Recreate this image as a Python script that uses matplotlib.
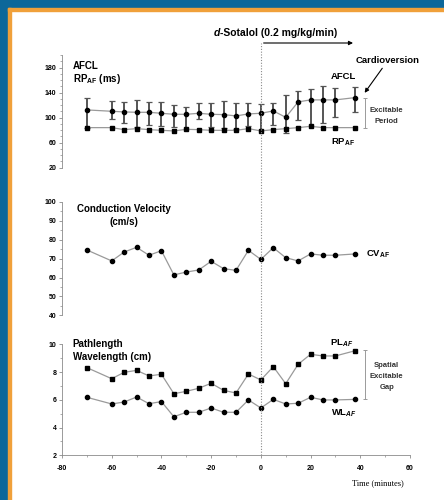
import numpy as np
import matplotlib.pyplot as plt
from matplotlib.patches import Rectangle

plt.rcParams['font.family'] = ['Liberation Sans', 'DejaVu Sans']
plt.rcParams['mathtext.fontset'] = 'custom'
plt.rcParams['mathtext.rm'] = 'Liberation Sans'
plt.rcParams['mathtext.bf'] = 'Liberation Sans:bold'
plt.rcParams['mathtext.it'] = 'Liberation Sans:italic:bold'
plt.rcParams['axes.unicode_minus'] = False

# time points (minutes)
time = [-70, -60, -55, -50, -45, -40, -35, -30, -25, -20, -15, -10, -5, 0, 5, 10, 15, 20, 25, 30, 38]

# AFCL mean and error bar ends (ms)
afcl = [112.3, 110.1, 109.1, 108.5, 108.5, 106.9, 105.3, 105.3, 106.9, 105.3, 104.8,
        102.7, 105.9, 106.9, 110.7, 100.5, 125.1, 128.3, 128.3, 128.3, 132.0]
afcl_hi = [132.0, 126.7, 125.1, 127.7, 125.1, 125.1, 120.8, 117.6, 122.9, 124.0, 126.7,
           122.9, 124.0, 121.3, 124.0, 136.3, 143.2, 146.4, 150.1, 147.5, 149.6]
afcl_lo = [84.0, 97.3, 90.9, 85.6, 87.7, 86.7, 84.5, 82.4, 97.3, 84.5, 82.9,
           81.3, 86.7, 80.3, 87.7, 74.9, 96.3, 86.7, 92.0, 101.6, 109.1]
# refractory period (ms)
rp = [84.0, 84.0, 80.8, 82.4, 80.8, 79.7, 78.7, 81.3, 80.8, 79.7, 79.7,
      79.7, 82.4, 78.7, 80.8, 82.4, 84.0, 86.1, 84.0, 84.0, 84.0]
# conduction velocity (cm/s)
cv = [74.6, 68.8, 73.5, 76.0, 71.8, 74.2, 61.4, 62.9, 64.0, 68.6, 64.7,
      63.8, 74.4, 69.6, 75.8, 70.5, 68.8, 72.5, 71.8, 71.8, 72.5]
# pathlength and wavelength (cm)
pl = [8.32, 7.52, 7.98, 8.12, 7.72, 7.84, 6.44, 6.61, 6.83, 7.19, 6.68,
      6.49, 7.86, 7.43, 8.39, 7.16, 8.56, 9.28, 9.16, 9.16, 9.54]
wl = [6.18, 5.70, 5.84, 6.20, 5.72, 5.87, 4.78, 5.10, 5.10, 5.41, 5.10,
      5.10, 5.99, 5.41, 6.03, 5.70, 5.75, 6.18, 5.99, 5.99, 6.03]

W, H = 444, 500
fig = plt.figure(figsize=(W / 100, H / 100), dpi=100)


def px_axes(top, bottom):
    # axes placed by pixel rows, x always -80..60 at px 62..410
    ax = fig.add_axes([62 / W, 1 - bottom / H, 348 / W, (bottom - top) / H])
    ax.set_xlim(-80, 60)
    return ax


# frame: blue strip + orange line on top and left
blue = '#0c679a'
orange = '#f0a03a'
fig.patches.append(Rectangle((0, 1 - 8 / H), 1, 8 / H, transform=fig.transFigure, color=blue, zorder=0))
fig.patches.append(Rectangle((0, 0), 8 / W, 1, transform=fig.transFigure, color=blue, zorder=0))
fig.patches.append(Rectangle((8 / W, 1 - 11 / H), 1, 3 / H, transform=fig.transFigure, color=orange, zorder=0))
fig.patches.append(Rectangle((8 / W, 0), 3 / W, 1 - 8 / H, transform=fig.transFigure, color=orange, zorder=0))

ax1 = px_axes(55, 167.7)
ax2 = px_axes(202, 315.3)
ax3 = px_axes(344.3, 455.3)

line_c = '#9a9a9a'
spine_c = '#8a8a8a'
for ax in (ax1, ax2, ax3):
    ax.patch.set_alpha(0)
    for s in ('top', 'right', 'bottom'):
        ax.spines[s].set_visible(False)
    ax.spines['left'].set_color(spine_c)
    ax.spines['left'].set_linewidth(0.6)
    ax.tick_params(axis='y', which='major', length=2.5, width=0.6, color=spine_c, pad=1.5,
                   labelsize=5)
    ax.tick_params(axis='y', which='minor', length=1.5, width=0.5, color=spine_c)
    ax.set_xticks([])

# top panel
ax1.set_ylim(20, 200)
ax1.set_yticks([20, 60, 100, 140, 180])
ax1.set_yticks(np.arange(20, 201, 10), minor=True)
err = [np.array(afcl) - np.array(afcl_lo), np.array(afcl_hi) - np.array(afcl)]
ax1.errorbar(time, afcl, yerr=err, fmt='none', ecolor='#555555', elinewidth=1.4,
             capsize=2.4, capthick=0.9, zorder=2)
ax1.plot(time, afcl, color=line_c, lw=0.9, marker='o', ms=3.0, mfc='black', mec='black', zorder=3)
ax1.plot(time, rp, color=line_c, lw=0.9, marker='s', ms=2.9, mfc='black', mec='black', zorder=3)
ax1.text(-75.6, 183, 'AFCL', fontsize=7, fontweight='bold', va='center')
ax1.text(-75.6, 162, r'RP$_\mathbf{AF}$ (ms)', fontsize=7, fontweight='bold', va='center')
ax1.text(51, 191, 'Cardioversion', fontsize=6.8, fontweight='bold', ha='center', va='center')
ax1.annotate('', xy=(41.1, 136), xytext=(49.5, 182.4),
             arrowprops=dict(arrowstyle='-|>', color='black', lw=0.8, mutation_scale=6))
ax1.text(33.2, 166, 'AFCL', fontsize=6.8, fontweight='bold', ha='center', va='center')
ax1.text(33.0, 61.3, r'RP$_\mathbf{AF}$', fontsize=6.8, fontweight='bold', ha='center', va='center')
ax1.errorbar([42], [(afcl[-1] + rp[-1]) / 2], yerr=[(afcl[-1] - rp[-1]) / 2], fmt='none',
             ecolor='#9a9a9a', elinewidth=0.7, capsize=1.5, capthick=0.7)
ax1.text(50.6, 110.9, 'Excitable', fontsize=5.5, fontweight='bold', ha='center', va='center',
         color='#333333')
ax1.text(50.6, 93.3, 'Period', fontsize=5.5, fontweight='bold', ha='center', va='center',
         color='#333333')

# middle panel
ax2.set_ylim(40, 100)
ax2.set_yticks(np.arange(40, 101, 10))
ax2.set_yticks(np.arange(40, 101, 5), minor=True)
ax2.plot(time, cv, color=line_c, lw=0.9, marker='o', ms=3.0, mfc='black', mec='black')
ax2.text(-55.2, 96.3, 'Conduction Velocity', fontsize=7, fontweight='bold', ha='center', va='center')
ax2.text(-55.2, 89.4, '(cm/s)', fontsize=7, fontweight='bold', ha='center', va='center')
ax2.text(42.3, 72.5, r'CV$_\mathbf{AF}$', fontsize=6.8, fontweight='bold', ha='left', va='center')

# bottom panel
ax3.set_ylim(2, 10)
ax3.set_yticks([2, 4, 6, 8, 10])
ax3.set_yticks(np.arange(2, 10.1, 1), minor=True)
ax3.spines['bottom'].set_visible(True)
ax3.spines['bottom'].set_color(spine_c)
ax3.spines['bottom'].set_linewidth(0.6)
ax3.set_xticks(np.arange(-80, 61, 20))
ax3.set_xticks(np.arange(-80, 61, 10), minor=True)
ax3.tick_params(axis='x', which='major', length=2, width=0.6, color=spine_c, pad=5, labelsize=5)
ax3.tick_params(axis='x', which='minor', length=1.5, width=0.5, color=spine_c)
ax3.plot(time, pl, color=line_c, lw=0.9, marker='s', ms=2.9, mfc='black', mec='black')
ax3.plot(time, wl, color=line_c, lw=0.9, marker='o', ms=3.0, mfc='black', mec='black')
ax3.text(-75.7, 10.0, 'Pathlength', fontsize=7, fontweight='bold', va='center')
ax3.text(-75.7, 9.08, 'Wavelength (cm)', fontsize=7, fontweight='bold', va='center')
ax3.text(32.5, 10.1, r'PL$_\mathit{AF}$', fontsize=6.8, fontweight='bold', ha='center', va='center')
ax3.text(33.4, 5.03, r'WL$_\mathit{AF}$', fontsize=6.8, fontweight='bold', ha='center', va='center')
ax3.errorbar([42], [(9.58 + wl[-1]) / 2], yerr=[(9.58 - wl[-1]) / 2], fmt='none',
             ecolor='#9a9a9a', elinewidth=0.7, capsize=1.5, capthick=0.7)
for txt, yy in zip(['Spatial', 'Excitable', 'Gap'], [8.46, 7.66, 6.87]):
    ax3.text(50.6, yy, txt, fontsize=5.5, fontweight='bold', ha='center', va='center',
             color='#333333')
ax3.text(47, 0.0, 'Time (minutes)', fontsize=6, family='Liberation Serif',
         ha='center', va='center')

for ax in (ax1, ax2, ax3):
    for lab in ax.get_xticklabels() + ax.get_yticklabels():
        lab.set_fontweight('bold')

# overlay for the dotted drug-start line and arrow
ov = px_axes(43, 455.3)
ov.set_ylim(0, 1)
ov.axis('off')
ov.axvline(0, color='#8a8a8a', lw=0.8, ls=(0, (1, 1.5)))
ov.annotate('', xy=(38.2, 1.0), xytext=(0, 1.0), annotation_clip=False,
            arrowprops=dict(arrowstyle='-|>', color='black', lw=0.8, mutation_scale=6))
ov.text(-18.9, 1.024, 'd', fontsize=7.5, fontweight='bold', style='italic', ha='left', va='center')
ov.text(-16.5, 1.024, '-Sotalol (0.2 mg/kg/min)', fontsize=7.5, fontweight='bold',
        ha='left', va='center')

fig.savefig('out.png', dpi=100)
